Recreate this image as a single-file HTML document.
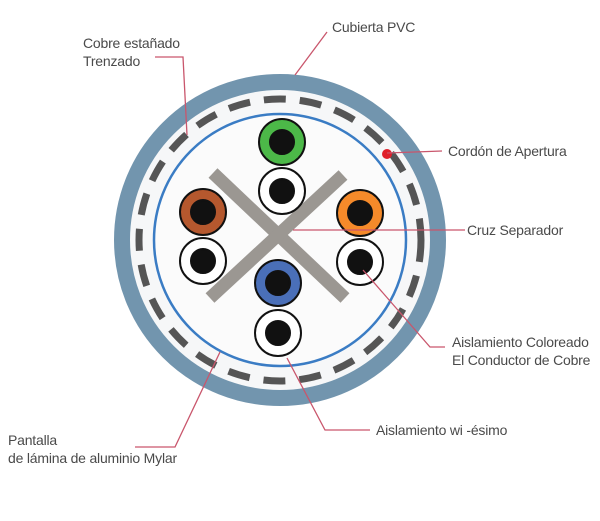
<!DOCTYPE html>
<html><head><meta charset="utf-8"><style>
html,body{margin:0;padding:0;background:#fff;}
svg{display:block;}
text{font-family:"Liberation Sans",sans-serif;font-size:14px;fill:#4a4a4a;letter-spacing:-0.2px;}
</style></head><body>
<svg width="600" height="521" viewBox="0 0 600 521" xmlns="http://www.w3.org/2000/svg">
<rect width="600" height="521" fill="#fff"/>
<circle cx="280" cy="240" r="158" fill="#f6f7f8" stroke="#7295ae" stroke-width="16"/>
<circle cx="280" cy="240" r="141" fill="none" stroke="#555" stroke-width="7" stroke-dasharray="22 14"/>
<circle cx="280" cy="240" r="126" fill="#fbfbfb" stroke="#3a7cc4" stroke-width="2.5"/>
<g stroke="#9b9792" stroke-width="13" stroke-linecap="butt">
<line x1="213" y1="173" x2="345" y2="298"/>
<line x1="343" y1="175" x2="210" y2="298"/>
</g>
<g stroke="#111" stroke-width="2">
<circle cx="282" cy="142" r="23" fill="#4cb848"/>
<circle cx="282" cy="142" r="12" fill="#111"/>
<circle cx="282" cy="191" r="23" fill="#fff"/>
<circle cx="282" cy="191" r="12" fill="#111"/>
<circle cx="203" cy="212" r="23" fill="#b5582e"/>
<circle cx="203" cy="212" r="12" fill="#111"/>
<circle cx="203" cy="261" r="23" fill="#fff"/>
<circle cx="203" cy="261" r="12" fill="#111"/>
<circle cx="360" cy="213" r="23" fill="#f58a2a"/>
<circle cx="360" cy="213" r="12" fill="#111"/>
<circle cx="360" cy="262" r="23" fill="#fff"/>
<circle cx="360" cy="262" r="12" fill="#111"/>
<circle cx="278" cy="283" r="23" fill="#4a6fb8"/>
<circle cx="278" cy="283" r="12" fill="#111"/>
<circle cx="278" cy="333" r="23" fill="#fff"/>
<circle cx="278" cy="333" r="12" fill="#111"/>
</g>
<circle cx="387" cy="154" r="5" fill="#e0202a"/>
<g stroke="#c9566c" stroke-width="1.3" fill="none">
<polyline points="327,32 295,75"/>
<polyline points="155,57 183,57 187,135"/>
<polyline points="387,153 442,151"/>
<polyline points="293,230 465,230"/>
<polyline points="363,270 430,347 445,347"/>
<polyline points="287,358 325,430 370,430"/>
<polyline points="220,352 175,447 135,447"/>
</g>
<text x="332" y="32">Cubierta PVC</text>
<text x="83" y="48">Cobre estañado</text>
<text x="83" y="66">Trenzado</text>
<text x="448" y="156">Cordón de Apertura</text>
<text x="467" y="235">Cruz Separador</text>
<text x="452" y="347">Aislamiento Coloreado</text>
<text x="452" y="365">El Conductor de Cobre</text>
<text x="376" y="435">Aislamiento wi -ésimo</text>
<text x="8" y="445">Pantalla</text>
<text x="8" y="463">de lámina de aluminio Mylar</text>
</svg>
</body></html>
